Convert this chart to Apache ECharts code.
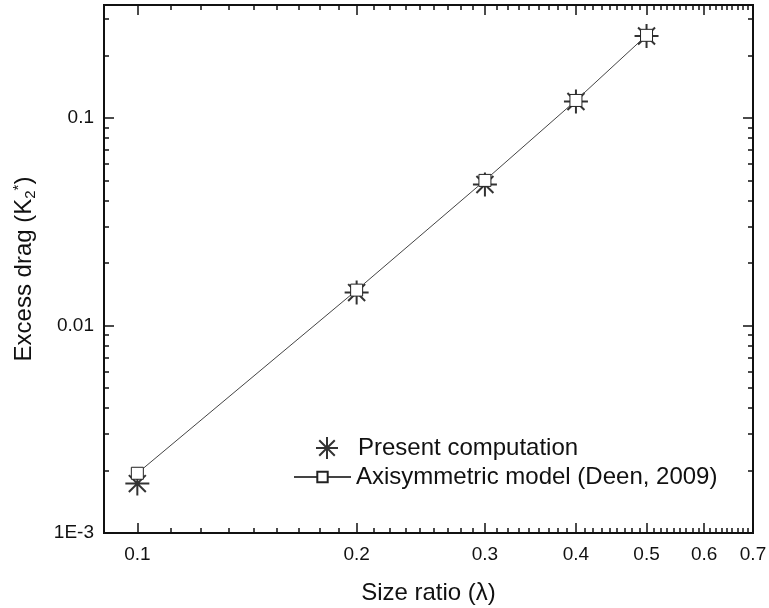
<!DOCTYPE html>
<html>
<head>
<meta charset="utf-8">
<title>Excess drag vs size ratio</title>
<script src="https://cdn.jsdelivr.net/npm/echarts@6/dist/echarts.min.js"></script>
<style>
  html, body { margin: 0; padding: 0; background: #fff; }
  #chart { width: 769px; height: 608px; }
</style>
</head>
<body>
<div id="chart"></div>
<script>
// values
const sizeRatio = [0.1, 0.2, 0.3, 0.4, 0.5];
const presentDrag = [0.00173, 0.0144, 0.0478, 0.120, 0.248];
const deenDrag = [0.00194, 0.0148, 0.0500, 0.1214, 0.250];

const xTickValues = [0.1, 0.2, 0.3, 0.4, 0.5, 0.6, 0.7];
const xTickLabels = ['0.1', '0.2', '0.3', '0.4', '0.5', '0.6', '0.7'];
const yTickValues = [0.001, 0.01, 0.1];
const yTickLabels = ['1E-3', '0.01', '0.1'];

const xMin = 0.09, xMax = 0.7;
const yMin = 0.001, yMax = 0.35;

const font = 'Liberation Sans, Arial, sans-serif';
const ink = '#111';

// minor ticks: 8 between each 0.1 step on x, 2..9 per decade on y
const xMinor = [];
for (let i = 0; i < 6; i++) {
  for (let k = 1; k < 9; k++) {
    xMinor.push(+(0.1 * (i + 1) + k * 0.1 / 9).toFixed(5));
  }
}
const yMinor = [];
yTickValues.forEach(d => {
  for (let m = 2; m <= 9; m++) {
    const v = +(m * d).toPrecision(3);
    if (v <= yMax) yMinor.push(v);
  }
});

const pair = (xs, ys) => xs.map((x, i) => [x, ys[i]]);

function xAxisOf(position, ticks, len, labels) {
  return {
    type: 'log',
    position: position,
    min: xMin,
    max: xMax,
    splitLine: { show: false },
    axisLine: { onZero: false, lineStyle: { color: ink, width: 2 } },
    axisTick: { inside: true, length: len, customValues: ticks, lineStyle: { color: ink, width: 1.5 } },
    axisLabel: labels ? {
      customValues: xTickValues,
      formatter: v => xTickLabels[xTickValues.findIndex(t => Math.abs(t - v) < 1e-6)],
      color: ink, fontSize: 19, fontFamily: font, margin: 12
    } : { show: false }
  };
}

function yAxisOf(position, ticks, len, labels) {
  return {
    type: 'log',
    position: position,
    min: yMin,
    max: yMax,
    splitLine: { show: false },
    axisLine: { onZero: false, lineStyle: { color: ink, width: 2 } },
    axisTick: { inside: true, length: len, customValues: ticks, lineStyle: { color: ink, width: 1.5 } },
    axisLabel: labels ? {
      customValues: yTickValues,
      formatter: v => yTickLabels[yTickValues.findIndex(t => Math.abs(t / v - 1) < 1e-6)],
      color: ink, fontSize: 19, fontFamily: font, margin: 10
    } : { show: false }
  };
}

const chart = echarts.init(document.getElementById('chart'), null, { renderer: 'canvas' });

const xMain = xAxisOf('bottom', xTickValues, 10, true);
xMain.name = 'Size ratio (λ)';
xMain.nameLocation = 'middle';
xMain.nameGap = 48;
xMain.nameTextStyle = { color: ink, fontSize: 24, fontFamily: font };

const yMain = yAxisOf('left', yTickValues, 10, true);
yMain.name = 'Excess drag (K{sub|2}{sup|*})';
yMain.nameLocation = 'middle';
yMain.nameGap = 66;
yMain.nameTextStyle = {
  color: ink, fontSize: 24, fontFamily: font,
  rich: {
    sub: { fontSize: 15, fontFamily: font, color: ink, padding: [12, 0, 0, 0] },
    sup: { fontSize: 15, fontFamily: font, color: ink, padding: [0, 0, 12, 0] }
  }
};

const asterisk = 'path://M10 0 L10 20 M0 10 L20 10 M2.93 2.93 L17.07 17.07 M2.93 17.07 L17.07 2.93';

chart.setOption({
  backgroundColor: '#fff',
  animation: false,
  grid: { left: 104, right: 16, top: 5, bottom: 75, containLabel: false, outerBoundsMode: 'none' },
  xAxis: [
    xMain,
    xAxisOf('top', xTickValues, 10, false),
    xAxisOf('top', xMinor, 5, false),
    xAxisOf('bottom', xMinor, 5, false)
  ],
  yAxis: [
    yMain,
    yAxisOf('right', yTickValues, 10, false),
    yAxisOf('right', yMinor, 5, false),
    yAxisOf('left', yMinor, 5, false)
  ],
  legend: [
    {
      data: ['Present computation'],
      left: 310,
      top: 431,
      itemWidth: 52,
      itemHeight: 22,
      selectedMode: false,
      itemStyle: { color: 'transparent', borderColor: '#000', borderWidth: 2 },
      textStyle: { color: ink, fontSize: 24, fontFamily: font }
    },
    {
      data: ['Axisymmetric model (Deen, 2009)'],
      left: 288,
      top: 460,
      itemWidth: 57,
      itemHeight: 13,
      selectedMode: false,
      textStyle: { color: ink, fontSize: 24, fontFamily: font }
    }
  ],
  series: [
    {
      name: 'Present computation',
      type: 'scatter',
      data: pair(sizeRatio, presentDrag),
      symbol: asterisk,
      symbolSize: 24,
      itemStyle: { color: 'transparent', borderColor: '#000', borderWidth: 2 }
    },
    {
      name: 'Axisymmetric model (Deen, 2009)',
      type: 'line',
      data: pair(sizeRatio, deenDrag),
      symbol: 'rect',
      symbolSize: 12,
      showAllSymbol: true,
      lineStyle: { color: '#444', width: 1 },
      itemStyle: { color: '#fff', borderColor: '#222', borderWidth: 1 }
    }
  ]
});
</script>
</body>
</html>
